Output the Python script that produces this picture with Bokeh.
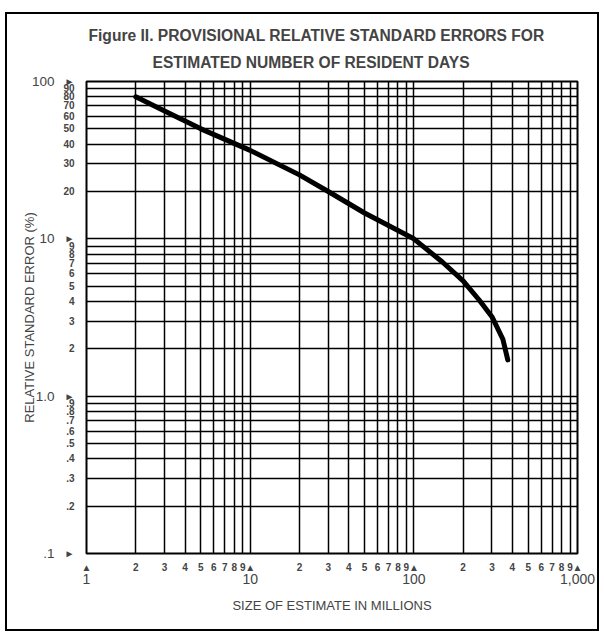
from bokeh.plotting import figure
from bokeh.models import LogAxis, FixedTicker, Title
from bokeh.embed import file_html
from bokeh.resources import INLINE

# Curve (size of estimate in millions, RSE in %)
size_millions = [2, 3, 5, 10, 20, 30, 50, 100, 150, 200, 250, 300, 350, 375]
rse_percent = [80, 65, 50, 36.5, 25.5, 20, 14.6, 10, 7.1, 5.4, 4.1, 3.2, 2.3, 1.7]

# Tick positions and labels
x_ticks = [1, 2, 3, 4, 5, 6, 7, 8, 9,
           10, 20, 30, 40, 50, 60, 70, 80, 90,
           100, 200, 300, 400, 500, 600, 700, 800, 900, 1000]
x_tick_labels = ["▲", "2", "3", "4", "5", "6", "7", "8", "9",
                 "▲", "2", "3", "4", "5", "6", "7", "8", "9",
                 "▲", "2", "3", "4", "5", "6", "7", "8", "9", "▲"]
x_major = [1, 10, 100, 1000]
x_major_labels = ["1", "10", "100", "1,000"]

y_ticks = [0.1, 0.2, 0.3, 0.4, 0.5, 0.6, 0.7, 0.8, 0.9,
           1, 2, 3, 4, 5, 6, 7, 8, 9,
           10, 20, 30, 40, 50, 60, 70, 80, 90, 100]
y_tick_labels = ["►", ".2", ".3", ".4", ".5", ".6", ".7", ".8", ".9",
                 "►", "2", "3", "4", "5", "6", "7", "8", "9",
                 "►", "20", "30", "40", "50", "60", "70", "80", "90", "►"]
y_major = [0.1, 1, 10, 100]
y_major_labels = [".1", "1.0", "10", "100"]

title_line1 = "Figure II. PROVISIONAL RELATIVE STANDARD ERRORS FOR"
title_line2 = "ESTIMATED NUMBER OF RESIDENT DAYS"
x_label = "SIZE OF ESTIMATE IN MILLIONS"
y_label = "RELATIVE STANDARD ERROR (%)"

FONT = "Liberation Sans"

p = figure(x_axis_type="log", y_axis_type="log",
           x_range=(1, 1000), y_range=(0.1, 100),
           frame_width=491, frame_height=472,
           min_border_left=86, min_border_right=27,
           min_border_top=81, min_border_bottom=83,
           output_backend="svg", toolbar_location=None)
# page frame drawn behind a transparent border area
p.border_fill_color = None
p.styles = {"box-shadow": ("inset 0 12px 0 0 white, inset 0 0 0 5px white, "
                           "inset 0 14px 0 0 black, inset 0 0 0 7px black")}

p.outline_line_color = "black"
p.outline_line_width = 2

for g in (p.xgrid[0], p.ygrid[0]):
    g.grid_line_color = "black"
    g.grid_line_width = 1.5
    g.grid_line_alpha = 1.0

def style_axis(ax):
    ax.axis_line_color = None
    ax.major_tick_line_color = None
    ax.minor_tick_line_color = None
    ax.major_tick_out = 0
    ax.major_tick_in = 0
    ax.minor_tick_out = 0
    ax.minor_tick_in = 0

# inner x axis: minor digit labels + arrows
xa = p.xaxis[0]
xa.ticker = FixedTicker(ticks=x_ticks)
xa.major_label_overrides = dict(zip(x_ticks, x_tick_labels))
xa.major_label_text_font = FONT
xa.major_label_text_font_size = "10px"
xa.major_label_text_font_style = "bold"
xa.major_label_standoff = 8
style_axis(xa)

# outer x axis: decade labels + axis title
xa2 = LogAxis(ticker=FixedTicker(ticks=x_major))
xa2.major_label_overrides = dict(zip(x_major, x_major_labels))
xa2.major_label_text_font = FONT
xa2.major_label_text_font_size = "14px"
xa2.major_label_standoff = -2
xa2.axis_label = x_label
xa2.axis_label_text_font = FONT
xa2.axis_label_text_font_size = "13px"
xa2.axis_label_text_font_style = "normal"
xa2.axis_label_standoff = 11
style_axis(xa2)
p.add_layout(xa2, "below")

# inner y axis
ya = p.yaxis[0]
ya.ticker = FixedTicker(ticks=y_ticks)
ya.major_label_overrides = dict(zip(y_ticks, y_tick_labels))
ya.major_label_text_font = FONT
ya.major_label_text_font_size = "10px"
ya.major_label_text_font_style = "bold"
ya.major_label_standoff = 12
style_axis(ya)

# outer y axis
ya2 = LogAxis(ticker=FixedTicker(ticks=y_major))
ya2.major_label_overrides = dict(zip(y_major, y_major_labels))
ya2.major_label_text_font = FONT
ya2.major_label_text_font_size = "13.5px"
ya2.major_label_standoff = 6
ya2.axis_label = y_label
ya2.axis_label_text_font = FONT
ya2.axis_label_text_font_size = "13px"
ya2.axis_label_text_font_style = "normal"
ya2.axis_label_standoff = -8
style_axis(ya2)
p.add_layout(ya2, "left")

# title lines (first added sits closest to the frame)
t2 = Title(text=title_line2, align="left", offset=66,
           text_font=FONT, text_font_size="15.6px", text_font_style="bold",
           standoff=21)
t1 = Title(text=title_line1, align="left", offset=2,
           text_font=FONT, text_font_size="15.6px", text_font_style="bold",
           standoff=-4)
p.add_layout(t2, "above")
p.add_layout(t1, "above")

p.line(size_millions, rse_percent, line_width=5, line_color="black",
       line_join="round", line_cap="round")

open("out.html", "w").write(file_html(p, INLINE))
